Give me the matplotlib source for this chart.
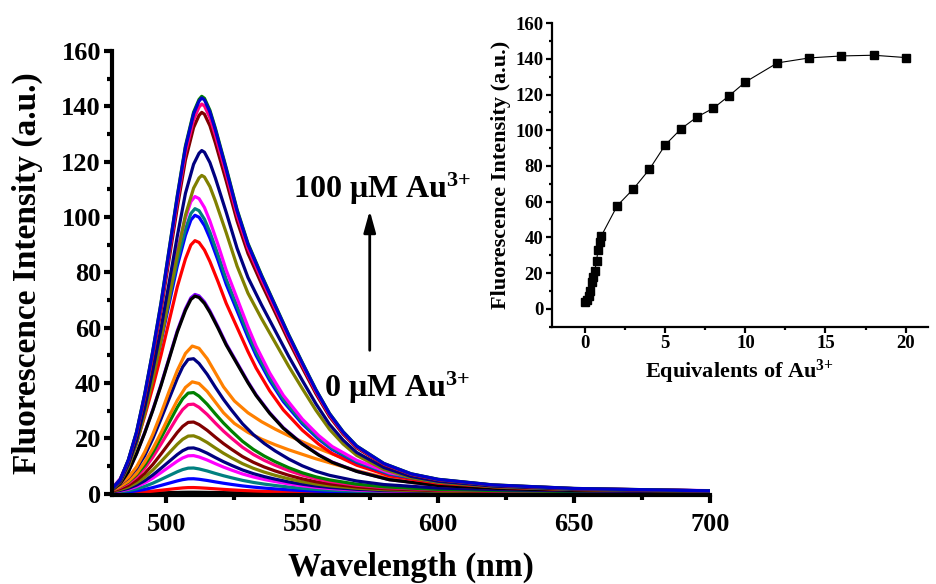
import matplotlib
matplotlib.use("Agg")
import matplotlib.pyplot as plt
from matplotlib.ticker import MultipleLocator

plt.rcParams['font.family'] = ['Liberation Serif', 'DejaVu Serif']
plt.rcParams['font.weight'] = 'bold'
plt.rcParams['mathtext.fontset'] = 'custom'
plt.rcParams['mathtext.rm'] = 'Liberation Serif:bold'
plt.rcParams['mathtext.it'] = 'Liberation Serif:bold'
plt.rcParams['mathtext.bf'] = 'Liberation Serif:bold'

# ---------------- data ----------------
# normalised spectral profiles
wl_low = [480, 483, 486, 489, 492, 495, 498, 501, 504, 506, 508, 510, 512, 515, 518, 521,
          524, 528, 532, 536, 540, 545, 550, 555, 560, 570, 580, 600, 625, 650, 700]
prof_low = [0.035, 0.07, 0.115, 0.185, 0.28, 0.405, 0.55, 0.70, 0.85, 0.935, 0.99, 0.995, 0.96,
            0.88, 0.785, 0.695, 0.615, 0.515, 0.435, 0.37, 0.315, 0.255, 0.205, 0.165, 0.135,
            0.093, 0.067, 0.041, 0.028, 0.02, 0.012]

wl_broad = [480, 483, 486, 489, 492, 495, 498, 501, 504, 507, 509.5, 512, 515, 518, 521, 525,
            530, 535, 540, 545, 550, 555, 560, 570, 580, 590, 600, 625, 650, 700]
prof_broad = [0.03, 0.065, 0.11, 0.18, 0.28, 0.40, 0.54, 0.69, 0.83, 0.945, 0.995, 0.98, 0.91,
              0.815, 0.72, 0.625, 0.545, 0.485, 0.435, 0.39, 0.35, 0.31, 0.275, 0.205, 0.145,
              0.10, 0.07, 0.04, 0.028, 0.015]

wl_mid = [480, 483, 486, 489, 492, 495, 498, 501, 504, 507, 509, 510.5, 512, 514, 516, 519,
          522, 526, 530, 533, 538, 543, 550, 556, 561, 570, 582, 600, 625, 650, 700]
prof_mid = [0.018, 0.05, 0.11, 0.20, 0.305, 0.42, 0.545, 0.68, 0.815, 0.925, 0.98, 0.997, 0.99,
            0.96, 0.915, 0.835, 0.75, 0.655, 0.56, 0.495, 0.405, 0.33, 0.25, 0.195, 0.158,
            0.112, 0.07, 0.041, 0.024, 0.016, 0.01]

wl_high = [480, 483, 486, 489, 492, 495, 498, 501, 504, 507, 510, 512, 513, 514, 516, 518,
           522, 526, 530, 535, 540, 545, 550, 555, 560, 565, 570, 580, 590, 600, 620, 650, 700]
prof_high = [0.012, 0.035, 0.085, 0.155, 0.25, 0.36, 0.48, 0.615, 0.75, 0.875, 0.96, 0.992, 1.0,
             0.995, 0.965, 0.92, 0.82, 0.715, 0.63, 0.55, 0.475, 0.40, 0.33, 0.262, 0.202,
             0.156, 0.12, 0.076, 0.05, 0.036, 0.022, 0.013, 0.007]

# peak intensity of each spectrum (0 -> 100 uM Au3+), and which profile it follows
peak_vals = [0.5, 2.2, 5.4, 9.3, 13.8, 16.6, 21.0, 26.0, 32.5, 36.7, 40.6,
             49.0, 53.6, 72.2, 71.6, 91.7, 100.9, 103.3, 107.7, 115.0, 124.0,
             137.8, 140.8, 143.6, 143.0]
profile_of = ['low', 'low', 'low', 'low', 'low', 'low', 'low', 'low', 'low', 'low', 'broad',
              'low', 'broad', 'mid', 'mid', 'mid', 'mid', 'mid', 'mid', 'high', 'high',
              'high', 'high', 'high', 'high']
curve_colors = ['#000000', '#FF0000', '#0000FF', '#008080', '#FF00FF', '#000080', '#808000',
                '#800000', '#FF0080', '#008000', '#FF8000', '#000080', '#FF8000', '#8000FF',
                '#000000', '#FF0000', '#0000FF', '#008080', '#FF00FF', '#808000', '#000080',
                '#800000', '#FF0080', '#008000', '#0000CC']

# inset titration data
equiv = [0, 0.1, 0.2, 0.3, 0.4, 0.5, 0.6, 0.7, 0.8, 0.9, 1.0, 2, 3, 4, 5, 6, 7, 8, 9, 10,
         12, 14, 16, 18, 20]
intensity = [3.7, 4.7, 6.9, 10.0, 14.7, 17.7, 21.4, 27.0, 32.8, 37.3, 40.8, 57.8, 67.1, 78.1,
             91.9, 101.0, 107.6, 112.4, 119.5, 127.1, 137.8, 140.6, 141.7, 142.1, 140.8]

profiles = {'low': (wl_low, prof_low), 'broad': (wl_broad, prof_broad),
            'mid': (wl_mid, prof_mid), 'high': (wl_high, prof_high)}

SUP = '$^{3{+}}$'

# ---------------- figure ----------------
fig = plt.figure(figsize=(9.36, 5.84), dpi=100)
ax = fig.add_axes([0.1197, 0.1524, 0.6389, 0.7604])

for pk, pname, col in zip(peak_vals, profile_of, curve_colors):
    wl, pr = profiles[pname]
    ax.plot(wl, [pk * p for p in pr], color=col, lw=2.3, solid_joinstyle='round')

ax.set_xlim(480, 700)
ax.set_ylim(-0.5, 160)
ax.xaxis.set_minor_locator(MultipleLocator(25))
ax.yaxis.set_major_locator(MultipleLocator(20))
ax.yaxis.set_minor_locator(MultipleLocator(10))
ax.set_xticks([500, 550, 600, 650, 700])
for s in ['top', 'right']:
    ax.spines[s].set_visible(False)
for s in ['left', 'bottom']:
    ax.spines[s].set_linewidth(3)
ax.tick_params(which='major', direction='out', length=6, width=3, labelsize=19)
ax.tick_params(axis='x', which='major', pad=7)
ax.tick_params(axis='y', which='major', pad=2)
ax.tick_params(which='minor', direction='out', length=3.5, width=3)
ax.set_xlabel('Wavelength (nm)', fontsize=24, fontweight='bold', labelpad=11)
ax.set_ylabel('Fluorescence Intensity (a.u.)', fontsize=24, fontweight='bold', labelpad=13)

ax.annotate('', xy=(574.8, 102.3), xytext=(574.8, 51.8),
            arrowprops=dict(arrowstyle='-|>,head_length=0.65,head_width=0.18',
                            lw=2, color='black', mutation_scale=20, shrinkA=0, shrinkB=0))
ax.text(546.7, 106.7, '100 \u03bcM Au' + SUP, fontsize=23, fontweight='bold',
        ha='left', va='baseline')
ax.text(557.8, 34.9, '0 \u03bcM Au' + SUP, fontsize=23, fontweight='bold',
        ha='left', va='baseline')

# ---------------- inset ----------------
ins = fig.add_axes([0.5894, 0.4409, 0.4020, 0.5192])
ins.patch.set_alpha(0)
ins.plot(equiv, intensity, color='black', lw=0.8, marker='s', markersize=5.5)
ins.set_xlim(-2.1, 21.4)
ins.set_ylim(-10, 160)
ins.xaxis.set_major_locator(MultipleLocator(5))
ins.xaxis.set_minor_locator(MultipleLocator(2.5))
ins.yaxis.set_major_locator(MultipleLocator(20))
ins.yaxis.set_minor_locator(MultipleLocator(10))
for s in ['top', 'right']:
    ins.spines[s].set_visible(False)
for s in ['left', 'bottom']:
    ins.spines[s].set_linewidth(1.6)
ins.tick_params(which='major', direction='out', length=4, width=1.6, labelsize=13.5, pad=2)
ins.tick_params(which='minor', direction='out', length=2.5, width=1.6)
ins.set_xlabel('Equivalents of Au' + SUP, fontsize=16, fontweight='bold', labelpad=4)
ins.set_ylabel('Fluorescence Intensity (a.u.)', fontsize=16, fontweight='bold', labelpad=3)

fig.savefig('out.png', dpi=100)
